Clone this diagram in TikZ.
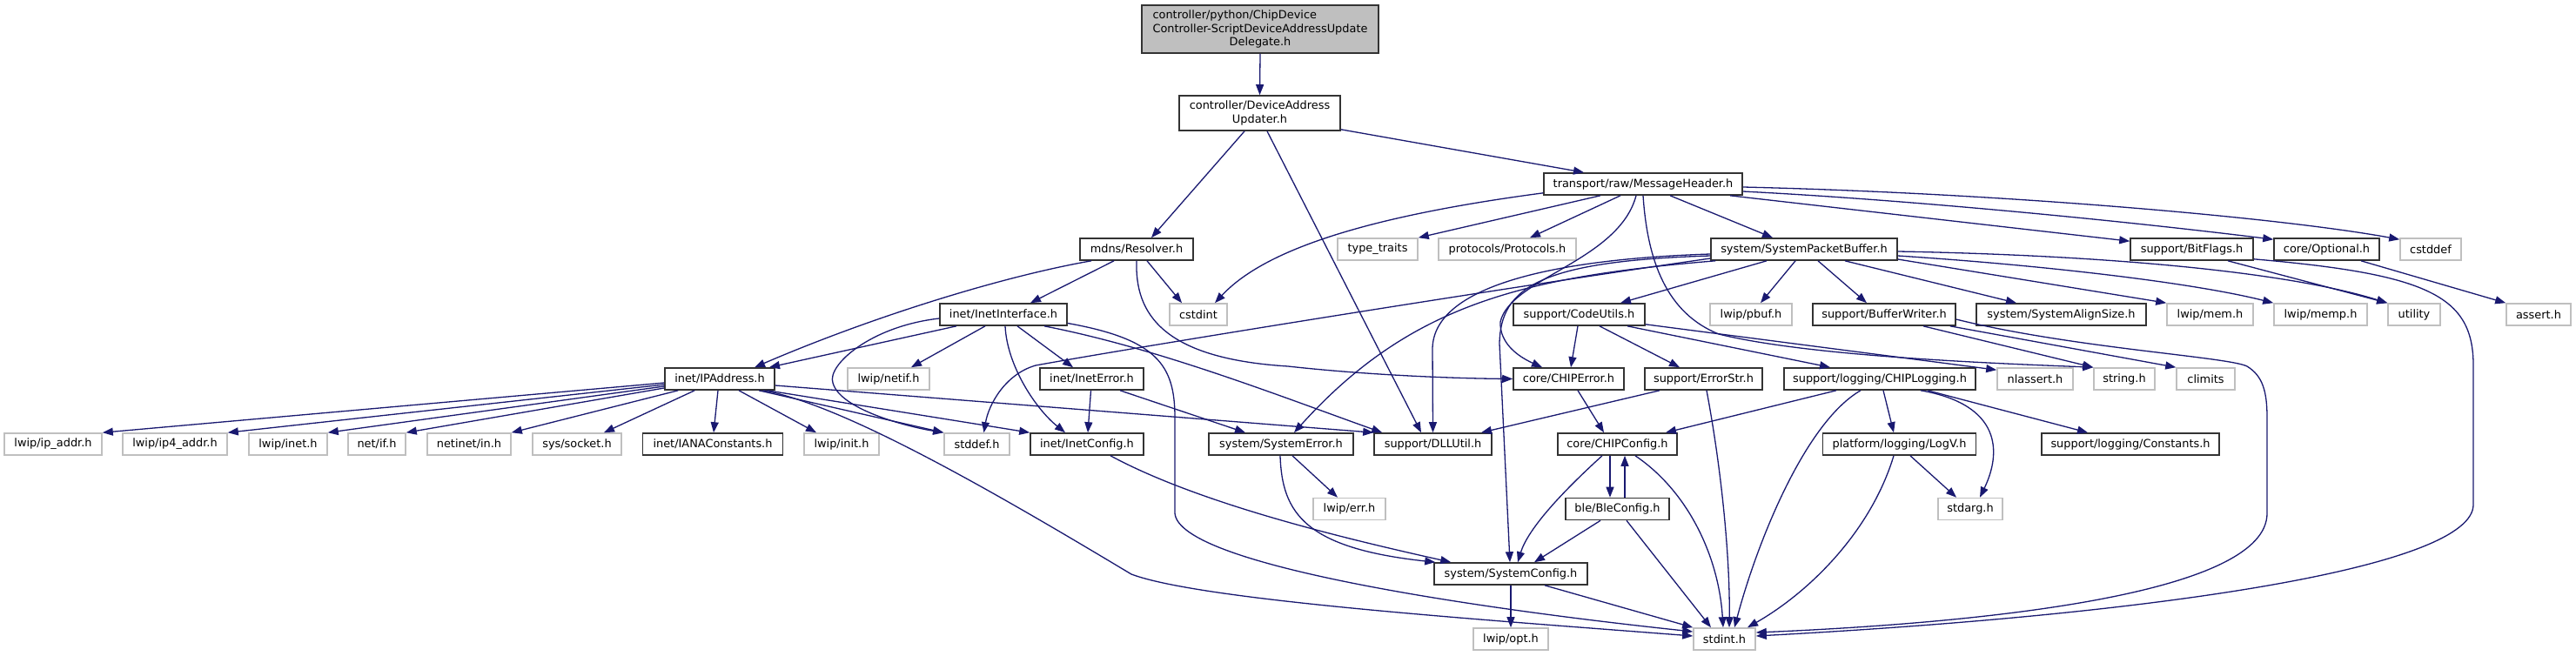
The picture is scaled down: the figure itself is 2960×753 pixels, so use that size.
\documentclass[tikz,border=0pt]{standalone}
\usepackage{fontspec}
\setmainfont{DejaVu Sans}
\usetikzlibrary{arrows.meta}
\definecolor{edgecol}{HTML}{191970}
\definecolor{extcol}{HTML}{BFBFBF}
\definecolor{boxcol}{HTML}{333333}
\tikzset{
  box/.style={draw=boxcol, line width=1.6pt, fill=white, inner sep=0pt, text=black,
    align=center, font=\fontsize{12.9}{15.2}\selectfont, minimum height=25},
  ext/.style={box, draw=extcol},
  root/.style={box, fill=extcol},
  edge/.style={draw=edgecol, line width=1.3pt, -{Triangle[length=12pt,width=9pt]}}
}
\begin{document}
\begin{tikzpicture}[x=1pt,y=-1pt]
\useasboundingbox (0,0) rectangle (2960,753);
\fill[white] (0,0) rectangle (2960,753);

% ---------- nodes ----------
\node[root, minimum width=272, minimum height=55] (top) at (1448,33.5)
  {\rlap{controller/python/ChipDevice}\phantom{Controller-ScriptDeviceAddressUpdate}\\Controller-ScriptDeviceAddressUpdate\\Delegate.h};
\node[box, minimum width=185, minimum height=40] (dau) at (1447.5,130) {controller/DeviceAddress\\Updater.h};
\node[box, minimum width=130] (resolver) at (1306,286.5) {mdns/Resolver.h};
\node[box, minimum width=146] (inetif) at (1153,361.5) {inet/InetInterface.h};
\node[ext, minimum width=66] (cstdint) at (1377,361.5) {cstdint};
\node[box, minimum width=228] (msghdr) at (1888,211.5) {transport/raw/MessageHeader.h};
\node[ext, minimum width=92] (typetraits) at (1583,286.5) {type\_traits};
\node[ext, minimum width=158] (protocols) at (1732,286.5) {protocols/Protocols.h};
\node[box, minimum width=214] (spb) at (2073,286.5) {system/SystemPacketBuffer.h};
\node[box, minimum width=151] (codeutils) at (1814.5,361.5) {support/CodeUtils.h};
\node[ext, minimum width=94] (pbuf) at (2012,361.5) {lwip/pbuf.h};
\node[box, minimum width=164] (bufwriter) at (2165,361.5) {support/BufferWriter.h};
\node[box, minimum width=141] (bitflags) at (2518.5,286.5) {support/BitFlags.h};
\node[box, minimum width=121] (optional) at (2673.5,286.5) {core/Optional.h};
\node[ext, minimum width=70] (cstddef) at (2793,286.5) {cstddef};
\node[box, minimum width=195] (alignsize) at (2368.5,361.5) {system/SystemAlignSize.h};
\node[ext, minimum width=99] (mem) at (2539.5,361.5) {lwip/mem.h};
\node[ext, minimum width=107] (memp) at (2666.5,361.5) {lwip/memp.h};
\node[ext, minimum width=60] (utility) at (2774,361.5) {utility};
\node[ext, minimum width=74] (assert) at (2917,361.5) {assert.h};
\node[ext, minimum width=112] (lwipipaddr) at (61,510.5) {lwip/ip\_addr.h};
\node[ext, minimum width=120] (ip4addr) at (201,510.5) {lwip/ip4\_addr.h};
\node[ext, minimum width=90] (lwipinet) at (331,510.5) {lwip/inet.h};
\node[ext, minimum width=66] (netif) at (433,510.5) {net/if.h};
\node[ext, minimum width=96] (netinetin) at (539,510.5) {netinet/in.h};
\node[ext, minimum width=102] (syssocket) at (663,510.5) {sys/socket.h};
\node[box, minimum width=126] (ipaddress) at (827,435.5) {inet/IPAddress.h};
\node[ext, minimum width=94] (lwipnetif) at (1021,435.5) {lwip/netif.h};
\node[box, minimum width=119] (ineterror) at (1254.5,435.5) {inet/InetError.h};
\node[box, minimum width=161] (iana) at (819,510.5) {inet/IANAConstants.h};
\node[ext, minimum width=86] (lwipinit) at (967,510.5) {lwip/init.h};
\node[ext, minimum width=75] (stddef) at (1122.5,510.5) {stddef.h};
\node[box, minimum width=130] (inetconfig) at (1249,510.5) {inet/InetConfig.h};
\node[box, minimum width=166] (syserror) at (1472,510.5) {system/SystemError.h};
\node[box, minimum width=127] (chiperror) at (1802.5,435.5) {core/CHIPError.h};
\node[box, minimum width=135] (errorstr) at (1957.5,435.5) {support/ErrorStr.h};
\node[box, minimum width=220] (chiplogging) at (2160,435.5) {support/logging/CHIPLogging.h};
\node[ext, minimum width=87] (nlassert) at (2338.5,435.5) {nlassert.h};
\node[ext, minimum width=70] (stringh) at (2441,435.5) {string.h};
\node[ext, minimum width=67] (climits) at (2534.5,435.5) {climits};
\node[box, minimum width=135] (dllutil) at (1646.5,510.5) {support/DLLUtil.h};
\node[box, minimum width=137] (chipconfig) at (1858.5,510.5) {core/CHIPConfig.h};
\node[box, minimum width=176] (logv) at (2182.5,510.5) {platform/logging/LogV.h};
\node[box, minimum width=204] (constants) at (2448,510.5) {support/logging/Constants.h};
\node[ext, minimum width=83] (lwiperr) at (1550.5,585) {lwip/err.h};
\node[box, minimum width=119] (bleconfig) at (1858.5,585) {ble/BleConfig.h};
\node[ext, minimum width=74] (stdarg) at (2264,585) {stdarg.h};
\node[box, minimum width=176] (sysconfig) at (1736,659.5) {system/SystemConfig.h};
\node[ext, minimum width=86] (lwipopt) at (1736,734.5) {lwip/opt.h};
\node[ext, minimum width=71] (stdint) at (1981.5,734.5) {stdint.h};

% ---------- edges ----------
\draw[edge] (top.south) -- (dau.north);
\draw[edge] ([xshift=-17.5pt]dau.south) -- ([xshift=17pt]resolver.north);
\draw[edge] ([xshift=8.5pt]dau.south) -- ([xshift=-13.5pt]dllutil.north);
\draw[edge] ([yshift=2pt]dau.south east) -- ([xshift=-68pt]msghdr.north);

\draw[edge] ([xshift=-52pt]resolver.south) .. controls (1150,318) and (1000,365) .. ([xshift=40pt]ipaddress.north);
\draw[edge] ([xshift=-26pt]resolver.south) -- ([xshift=31pt]inetif.north);
\draw[edge] ([xshift=12pt]resolver.south) -- ([xshift=-19pt]cstdint.north);
\draw[edge] (resolver.south) .. controls (1304,360) and (1335,412) .. (1480,421) .. controls (1580,432) and (1680,435) .. (chiperror.west);

\draw[edge] ([yshift=3pt]msghdr.south west) .. controls (1560,250) and (1450,290) .. ([xshift=19pt]cstdint.north);
\draw[edge] ([xshift=-49pt]msghdr.south) -- (typetraits.north east);
\draw[edge] ([xshift=-26pt]msghdr.south) -- ([xshift=26pt]protocols.north);
\draw[edge] ([xshift=-8pt]msghdr.south) .. controls (1860,300) and (1735,320) .. (1724,370) .. controls (1723,395) and (1745,410) .. ([xshift=-30.5pt]chiperror.north);
\draw[edge] (msghdr.south) .. controls (1893,300) and (1915,360) .. (1975,384) .. controls (2080,410) and (2300,418) .. (stringh.north west);
\draw[edge] ([xshift=31pt]msghdr.south) -- ([xshift=-36pt]spb.north);
\draw[edge] ([xshift=-15pt]msghdr.south east) -- ([yshift=-4pt]bitflags.north west);
\draw[edge] ([yshift=-8.5pt]msghdr.east) .. controls (2200,230) and (2450,255) .. ([yshift=-2pt]optional.north west);
\draw[edge] ([yshift=-3.5pt]msghdr.east) .. controls (2300,222) and (2620,250) .. ([yshift=-2pt]cstddef.north west);

\draw[edge] ([xshift=-43pt]spb.south) -- ([xshift=47.5pt]codeutils.north);
\draw[edge] ([xshift=-10pt]spb.south) -- ([xshift=11pt]pbuf.north);
\draw[edge] ([xshift=16pt]spb.south) -- ([xshift=-20pt]bufwriter.north);
\draw[edge] ([xshift=47pt]spb.south) -- ([xshift=-51.5pt]alignsize.north);
\draw[edge] ([yshift=-11.5pt]spb.east) -- (mem.north west);
\draw[edge] ([yshift=-7.5pt]spb.east) .. controls (2350,305) and (2520,325) .. (memp.north west);
\draw[edge] ([yshift=-2.5pt]spb.east) .. controls (2400,293) and (2620,310) .. (utility.north west);
\draw[edge] ([yshift=-5.5pt]spb.west) .. controls (1780,298) and (1648,330) .. (1646,400) -- (dllutil.north);
\draw[edge] ([yshift=-7.5pt]spb.west) .. controls (1770,300) and (1724,330) .. (1723,395) -- ([xshift=-1pt]sysconfig.north);
\draw[edge] ([yshift=-10.5pt]spb.west) .. controls (1700,335) and (1300,400) .. (1190,420) .. controls (1155,430) and (1136,465) .. ([xshift=8pt]stddef.north);
\draw[edge] ([xshift=6pt]spb.south west) .. controls (1750,318) and (1620,350) .. ([xshift=15pt]syserror.north);

\draw[edge] ([xshift=-1.5pt]codeutils.south) -- ([xshift=2.5pt]chiperror.north);
\draw[edge] ([xshift=23.5pt]codeutils.south) -- ([xshift=-27.5pt]errorstr.north);
\draw[edge] ([xshift=55.5pt]codeutils.south) -- ([xshift=-57pt]chiplogging.north);
\draw[edge] ([yshift=2pt]codeutils.south east) -- ([yshift=-3pt]nlassert.north west);

\draw[edge] ([xshift=10.5pt]chiperror.south) -- ([xshift=-15.5pt]chipconfig.north);
\draw[edge] ([xshift=-50.5pt]errorstr.south) -- ([xshift=55.5pt]dllutil.north);
\draw[edge] ([xshift=3.5pt]errorstr.south) .. controls (1980,550) and (1988,650) .. ([xshift=5.5pt]stdint.north);
\draw[edge] ([xshift=-50pt]chiplogging.south) -- ([xshift=55.5pt]chipconfig.north);
\draw[edge] ([xshift=-22pt]chiplogging.south) .. controls (2075,485) and (2020,620) .. ([xshift=11.5pt]stdint.north);
\draw[edge] ([xshift=4pt]chiplogging.south) -- ([xshift=-6.5pt]logv.north);
\draw[edge] ([xshift=47pt]chiplogging.south) .. controls (2300,465) and (2300,520) .. ([xshift=11pt]stdarg.north);
\draw[edge] ([xshift=55pt]chiplogging.south) -- ([xshift=-49pt]constants.north);
\draw[edge] ([xshift=-6.5pt]logv.south) .. controls (2150,610) and (2080,680) .. ([xshift=26.5pt]stdint.north);
\draw[edge] ([xshift=12.5pt]logv.south) -- ([xshift=-16pt]stdarg.north);

\draw[edge] ([xshift=-8.5pt]chipconfig.south) -- ([xshift=-8.5pt]bleconfig.north);
\draw[edge] ([xshift=8.5pt]bleconfig.north) -- ([xshift=8.5pt]chipconfig.south);
\draw[edge] ([xshift=-17.5pt]chipconfig.south) .. controls (1790,570) and (1755,610) .. ([xshift=8pt]sysconfig.north);
\draw[edge] ([xshift=20.5pt]chipconfig.south) .. controls (1940,565) and (1975,640) .. ([xshift=-1.5pt]stdint.north);
\draw[edge] ([xshift=-19.5pt]bleconfig.south) -- ([xshift=27pt]sysconfig.north);
\draw[edge] ([xshift=10.5pt]bleconfig.south) -- ([xshift=-15.5pt]stdint.north);
\draw[edge] (sysconfig.south) -- (lwipopt.north);
\draw[edge] ([xshift=39pt]sysconfig.south) -- (stdint.north west);

\draw[edge] ([xshift=27pt]inetconfig.south) .. controls (1380,580) and (1550,620) .. ([xshift=20pt]sysconfig.north west);
\draw[edge] ([xshift=13pt]syserror.south) -- ([xshift=-13.5pt]lwiperr.north);
\draw[edge] ([xshift=-1pt]syserror.south) .. controls (1473,590) and (1500,630) .. ([xshift=2pt]sysconfig.north west);
\draw[edge] ([xshift=-1pt]ineterror.south) -- ([xshift=1pt]inetconfig.north);
\draw[edge] ([xshift=32.5pt]ineterror.south) -- ([xshift=-41pt]syserror.north);

\draw[edge] ([xshift=-54pt]inetif.south) -- ([xshift=57pt]ipaddress.north);
\draw[edge] ([yshift=-4.5pt]inetif.west) .. controls (1000,375) and (950,420) .. (957,440) .. controls (965,470) and (1040,490) .. (stddef.north west);
\draw[edge] ([xshift=-21pt]inetif.south) -- ([xshift=26pt]lwipnetif.north);
\draw[edge] ([xshift=2pt]inetif.south) .. controls (1157,420) and (1190,470) .. ([xshift=-25pt]inetconfig.north);
\draw[edge] ([xshift=16pt]inetif.south) -- ([xshift=-21.5pt]ineterror.north);
\draw[edge] ([xshift=47pt]inetif.south) .. controls (1330,400) and (1470,455) .. ([xshift=10pt]dllutil.north west);
\draw[edge] ([yshift=-10pt]inetif.east) .. controls (1330,390) and (1350,420) .. (1350,480) -- (1350,590) .. controls (1355,650) and (1700,700) .. ([yshift=8.5pt]stdint.west);

\draw[edge] ([xshift=50pt]ipaddress.south) .. controls (970,465) and (1150,570) .. (1300,660) .. controls (1380,690) and (1700,712) .. ([yshift=3.5pt]stdint.west);
\draw[edge] ([yshift=-7.5pt]ipaddress.east) -- (dllutil.north west);
\draw[edge] ([xshift=55pt]ipaddress.south) -- (inetconfig.north west);
\draw[edge] ([xshift=45pt]ipaddress.south) -- (stddef.north west);
\draw[edge] ([xshift=22pt]ipaddress.south) -- ([xshift=-29pt]lwipinit.north);
\draw[edge] ([xshift=-2pt]ipaddress.south) -- ([xshift=1pt]iana.north);
\draw[edge] ([yshift=-4.5pt]ipaddress.west) -- (lwipipaddr.north east);
\draw[edge] ([yshift=-6.5pt]ipaddress.west) -- (ip4addr.north east);
\draw[edge] ([yshift=-8.5pt]ipaddress.west) -- (lwipinet.north east);
\draw[edge] ([yshift=-10.5pt]ipaddress.west) -- (netif.north east);
\draw[edge] ([xshift=16pt]ipaddress.south west) -- (netinetin.north east);
\draw[edge] ([xshift=35pt]ipaddress.south west) -- ([xshift=31pt]syssocket.north);

\draw[edge] ([xshift=41.5pt]bitflags.south) -- (utility.north west);
\draw[edge] ([yshift=2pt]bitflags.south east) .. controls (2790,315) and (2842,340) .. (2842,420) -- (2842,580) .. controls (2842,650) and (2500,705) .. ([yshift=3.5pt]stdint.east);
\draw[edge] ([xshift=39.5pt]optional.south) -- (assert.north west);

\draw[edge] ([xshift=45pt]bufwriter.south) -- (stringh.north west);
\draw[edge] ([xshift=-7pt]bufwriter.south east) -- (climits.north west);
\draw[edge] ([yshift=-5.5pt]bufwriter.east) .. controls (2380,400) and (2560,410) .. (2582,421) .. controls (2600,432) and (2605,450) .. (2605,480) -- (2605,590) .. controls (2605,680) and (2300,715) .. ([yshift=7.5pt]stdint.east);
\end{tikzpicture}
\end{document}
